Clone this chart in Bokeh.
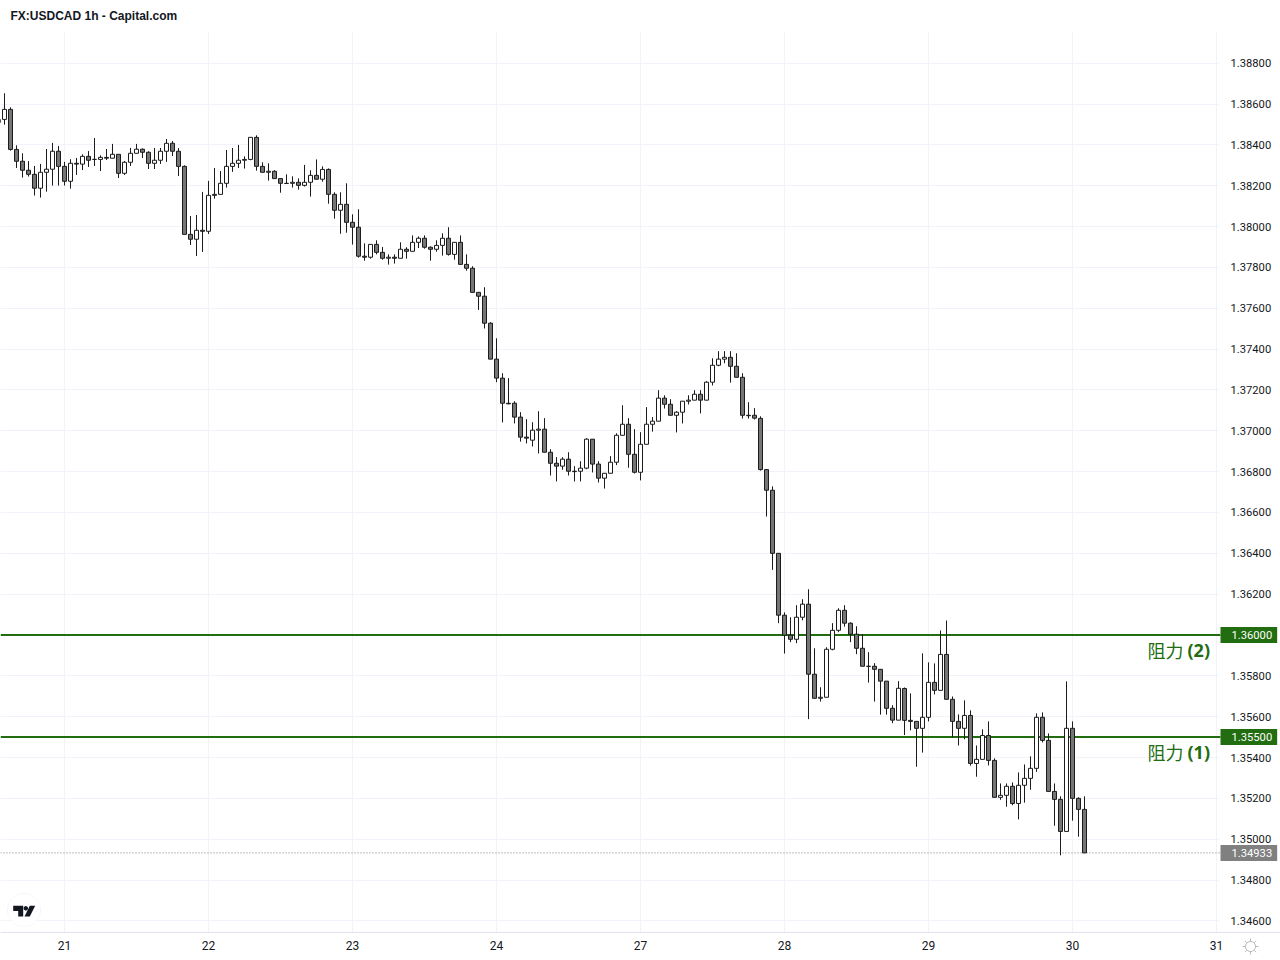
import numpy as np
from bokeh.plotting import figure
from bokeh.models import (ColumnDataSource, Label, FixedTicker, Range1d, PolyAnnotation, BoxAnnotation)
from bokeh.embed import file_html
from bokeh.resources import INLINE

chart_title = "FX:USDCAD 1h - Capital.com"

opens = [
1.38525,1.38525,1.38574,1.38378,1.38320,1.38276,1.38256,1.38188,1.38266,1.38281,
1.38369,1.38295,1.38222,1.38310,1.38306,1.38344,1.38329,1.38329,1.38339,1.38335,
1.38354,1.38261,1.38315,1.38359,1.38379,1.38364,1.38310,1.38325,1.38369,1.38408,
1.38369,1.38295,1.37962,1.37938,1.37982,1.37977,1.38153,1.38158,1.38212,1.38295,
1.38310,
1.38325,1.38329,1.38437,1.38295,1.38266,1.38271,1.38235,1.38212,1.38212,1.38217,
1.38202,1.38217,1.38251,1.38232,1.38280,1.38158,1.38080,1.38109,1.38021,1.37997,
1.37855,1.37850,1.37913,1.37874,1.37845,1.37850,1.37845,1.37889,1.37879,1.37923,
1.37943,1.37899,1.37889,1.37908,1.37943,1.37864,1.37923,1.37815,1.37796,
1.37678,1.37659,1.37527,1.37351,1.37258,1.37135,1.37135,1.37067,1.36969,1.36954,
1.37003,1.37008,1.36895,1.36841,1.36827,1.36861,1.36802,1.36802,1.36817,1.36959,
1.36837,1.36768,1.36792,1.36846,1.36978,1.37032,1.36885,1.36797,1.36934,1.37032,
1.37047,1.37160,1.37130,1.37076,1.37091,1.37145,1.37150,1.37179,1.37150,1.37238,
1.37321,1.37351,1.37360,1.37316,1.37262,1.37076,1.37076,
1.37061,1.36810,1.36709,1.36400,1.36097,1.35999,1.35979,1.36087,1.36151,1.35808,
1.35690,1.35695,1.35930,1.36023,1.36121,1.36058,1.36004,1.35935,1.35847,1.35847,
1.35832,1.35774,1.35641,1.35583,
1.35738,1.35582,1.35577,1.35543,1.35597,1.35768,1.35729,1.35905,1.35685,1.35577,
1.35543,1.35606,1.35371,1.35391,1.35508,1.35386,1.35205,1.35215,1.35259,1.35175,
1.35264,1.35298,1.35347,1.35597,1.35484,1.35234,1.35195,1.35038,1.35543,1.35200,
1.35146]

highs = [
1.38525,1.38653,1.38584,1.38398,1.38359,1.38321,1.38297,1.38307,1.38380,1.38410,
1.38395,1.38317,1.38330,1.38336,1.38354,1.38370,1.38434,1.38349,1.38380,1.38405,
1.38354,1.38321,1.38385,1.38405,1.38383,1.38369,1.38385,1.38385,1.38429,1.38419,
1.38385,1.38300,1.38052,1.38057,1.38170,1.38224,1.38287,1.38272,1.38375,1.38385,
1.38400,
1.38344,1.38437,1.38447,1.38315,1.38310,1.38276,1.38235,1.38256,1.38246,1.38236,
1.38302,1.38276,1.38329,1.38295,1.38285,1.38168,1.38168,1.38212,1.38060,1.38085,
1.37918,1.37913,1.37933,1.37900,1.37864,1.37864,1.37923,1.37899,1.37957,1.37952,
1.37957,1.37903,1.37933,1.37967,1.37997,1.37923,1.37957,1.37864,1.37806,
1.37678,1.37703,1.37532,1.37453,1.37282,1.37258,1.37145,1.37091,1.37057,1.37042,
1.37096,1.37062,1.36910,1.36871,1.36871,1.36895,1.36827,1.36851,1.36964,1.36959,
1.36851,1.36792,1.36876,1.36988,1.37125,1.37062,1.37008,1.36993,1.37116,1.37067,
1.37199,1.37174,1.37155,1.37096,1.37145,1.37174,1.37199,1.37199,1.37243,1.37355,
1.37390,1.37390,1.37390,1.37380,1.37282,1.37140,1.37111,
1.37071,1.36810,1.36728,1.36400,1.36111,1.36087,1.36146,1.36175,1.36224,1.35935,
1.35744,1.35940,1.36058,1.36131,1.36146,1.36062,1.36043,1.36004,1.35916,1.35862,
1.35832,1.35774,1.35656,1.35774,
1.35743,1.35714,1.35577,1.35910,1.35866,1.35861,1.36022,1.36071,1.35699,1.35611,
1.35680,1.35631,1.35459,1.35538,1.35577,1.35396,1.35273,1.35273,1.35278,1.35327,
1.35366,1.35406,1.35616,1.35621,1.35518,1.35273,1.35210,1.35773,1.35577,1.35205,
1.35210]

lows = [
1.38509,1.38499,1.38372,1.38287,1.38240,1.38245,1.38152,1.38142,1.38171,1.38201,
1.38201,1.38201,1.38186,1.38253,1.38277,1.38292,1.38297,1.38272,1.38326,1.38335,
1.38238,1.38253,1.38297,1.38359,1.38336,1.38282,1.38282,1.38307,1.38317,1.38346,
1.38248,1.37962,1.37910,1.37856,1.37876,1.37964,1.38137,1.38158,1.38191,1.38268,
1.38287,
1.38284,1.38325,1.38274,1.38266,1.38225,1.38235,1.38166,1.38210,1.38191,1.38181,
1.38196,1.38147,1.38232,1.38220,1.38112,1.38039,1.37965,1.37970,1.37912,1.37848,
1.37833,1.37843,1.37864,1.37838,1.37814,1.37819,1.37845,1.37843,1.37879,1.37895,
1.37892,1.37833,1.37877,1.37858,1.37858,1.37838,1.37815,1.37784,1.37678,
1.37592,1.37501,1.37351,1.37238,1.37041,1.37130,1.37036,1.36947,1.36938,1.36923,
1.36889,1.36895,1.36781,1.36752,1.36809,1.36781,1.36752,1.36752,1.36812,1.36796,
1.36747,1.36717,1.36792,1.36832,1.36978,1.36819,1.36791,1.36757,1.36934,1.36996,
1.37047,1.37109,1.37076,1.36992,1.37036,1.37129,1.37150,1.37085,1.37150,1.37222,
1.37316,1.37331,1.37236,1.37262,1.37060,1.37060,1.37055,
1.36805,1.36580,1.36319,1.36058,1.35909,1.35965,1.35960,1.36072,1.35588,1.35690,
1.35674,1.35695,1.35925,1.36014,1.36041,1.35965,1.35906,1.35847,1.35767,1.35674,
1.35610,1.35610,1.35568,1.35583,
1.35510,1.35533,1.35355,1.35424,1.35577,1.35709,1.35729,1.35685,1.35499,1.35459,
1.35489,1.35360,1.35306,1.35391,1.35361,1.35205,1.35193,1.35159,1.35166,1.35097,
1.35179,1.35242,1.35330,1.35474,1.35234,1.35066,1.34921,1.35038,1.35091,1.35012,
1.34933]

closes = [
1.38509,1.38574,1.38378,1.38320,1.38276,1.38256,1.38188,1.38266,1.38281,1.38369,
1.38295,1.38222,1.38310,1.38306,1.38344,1.38325,1.38329,1.38339,1.38335,1.38354,
1.38261,1.38315,1.38359,1.38379,1.38364,1.38310,1.38325,1.38369,1.38408,1.38369,
1.38295,1.37962,1.37938,1.37982,1.37977,1.38153,1.38158,1.38212,1.38295,1.38310,
1.38325,
1.38329,1.38437,1.38295,1.38266,1.38271,1.38235,1.38212,1.38211,1.38217,1.38202,
1.38217,1.38251,1.38232,1.38280,1.38158,1.38080,1.38109,1.38021,1.37997,1.37855,
1.37850,1.37913,1.37874,1.37845,1.37850,1.37845,1.37889,1.37879,1.37923,1.37943,
1.37899,1.37889,1.37908,1.37943,1.37864,1.37923,1.37815,1.37796,1.37678,
1.37659,1.37527,1.37351,1.37258,1.37135,1.37132,1.37067,1.36969,1.36964,1.37003,
1.37008,1.36895,1.36841,1.36827,1.36861,1.36802,1.36800,1.36817,1.36959,1.36837,
1.36768,1.36792,1.36846,1.36978,1.37032,1.36885,1.36797,1.36934,1.37032,1.37047,
1.37160,1.37130,1.37076,1.37091,1.37145,1.37150,1.37179,1.37150,1.37238,1.37321,
1.37351,1.37360,1.37316,1.37262,1.37076,1.37074,1.37062,
1.36810,1.36709,1.36400,1.36097,1.35999,1.35979,1.36087,1.36151,1.35808,1.35690,
1.35695,1.35930,1.36023,1.36121,1.36058,1.36004,1.35935,1.35847,1.35846,1.35832,
1.35774,1.35641,1.35583,1.35739,
1.35582,1.35577,1.35543,1.35597,1.35768,1.35729,1.35905,1.35685,1.35577,1.35543,
1.35606,1.35371,1.35391,1.35508,1.35386,1.35205,1.35215,1.35259,1.35175,1.35264,
1.35298,1.35347,1.35597,1.35484,1.35234,1.35195,1.35038,1.35543,1.35200,1.35146,
1.34933]

day_ticks = [10, 34, 58, 82, 106, 130, 154, 178, 202]
day_labels = ["21", "22", "23", "24", "27", "28", "29", "30", "31"]
price_ticks = [1.346, 1.348, 1.35, 1.352, 1.354, 1.356, 1.358, 1.36, 1.362, 1.364, 1.366,
               1.368, 1.37, 1.372, 1.374, 1.376, 1.378, 1.38, 1.382, 1.384, 1.386, 1.388]
resistance_levels = [1.36, 1.355]
resistance_names = ["(2)", "(1)"]
last_price = 1.34933

GREEN = "#226d10"
INK = "#131722"
GRID = "#f0f3fa"
BORDER = "#e0e3eb"
TICK_FONT = "Roboto"
TICK_SIZE = "11.2px"

# pixel layout of the reference: the whole canvas is the frame, with the price
# scale beyond x=1219 and the time scale below y=932.
PX_PER_BAR = 6
PX_PER_PRICE = 20420
x_at = lambda px: -4 / PX_PER_BAR + px / PX_PER_BAR
y_at = lambda py: 1.36 + (634.5 - py) / PX_PER_PRICE

n = len(opens)
bars = list(range(-1, n - 1))
is_down = [c < o for o, c in zip(opens, closes)]
src = ColumnDataSource(dict(
    x=bars, open=opens, high=highs, low=lows, close=closes,
    top=[max(o, c) for o, c in zip(opens, closes)],
    bottom=[min(o, c) for o, c in zip(opens, closes)],
    fill=["#757575" if d else "#ffffff" for d in is_down],
))

p = figure(width=1280, height=960, output_backend="svg", toolbar_location=None,
           y_axis_location="right",
           x_range=Range1d(x_at(0), x_at(1280)),
           y_range=Range1d(y_at(960), y_at(0)),
           min_border=0)
p.frame_width = 1280
p.frame_height = 960
p.outline_line_color = None
p.background_fill_color = "#ffffff"
p.border_fill_color = "#ffffff"

p.xgrid.ticker = FixedTicker(ticks=day_ticks)
p.ygrid.ticker = FixedTicker(ticks=price_ticks)
p.xgrid.grid_line_color = GRID
p.ygrid.grid_line_color = GRID

# keep the grid inside the chart pane
for kw in (dict(left=1219, right=1280, top=0, bottom=960),
           dict(left=0, right=1280, top=0, bottom=32),
           dict(left=0, right=1280, top=932, bottom=960)):
    p.add_layout(BoxAnnotation(left_units="canvas", right_units="canvas", top_units="canvas",
                               bottom_units="canvas", fill_color="#ffffff", fill_alpha=1,
                               line_color=None, level="underlay", **kw))

xa = p.xaxis[0]
xa.fixed_location = y_at(932)
xa.ticker = FixedTicker(ticks=day_ticks)
xa.major_label_overrides = dict(zip(day_ticks, day_labels))
xa.major_tick_line_color = None
xa.minor_tick_line_color = None
xa.axis_line_color = BORDER
xa.major_label_text_font = TICK_FONT
xa.major_label_text_font_size = "12px"
xa.major_label_text_color = INK
xa.major_label_standoff = 2

ya = p.yaxis[0]
ya.fixed_location = x_at(1219)
ya.ticker = FixedTicker(ticks=price_ticks)
ya.major_label_overrides = {t: f"{t:.5f}" for t in price_ticks}
ya.major_tick_line_color = None
ya.minor_tick_line_color = None
ya.axis_line_color = None
ya.major_label_text_font = TICK_FONT
ya.major_label_text_font_size = TICK_SIZE
ya.major_label_text_color = INK
ya.major_label_standoff = 5

level_src = ColumnDataSource(dict(x0=[x_at(0)] * 2, x1=[x_at(1220)] * 2, y=resistance_levels))
p.segment("x0", "y", "x1", "y", source=level_src, line_color=GREEN, line_width=2)
p.segment([x_at(0)], [last_price], [x_at(1220)], [last_price], line_color="#808080",
          line_width=1, line_dash="1 2")

p.segment("x", "high", "x", "low", source=src, line_color="#1c1c1c", line_width=1)
p.vbar("x", width=4 / PX_PER_BAR, top="top", bottom="bottom", source=src, fill_color="fill",
       line_color="#1c1c1c", line_width=1)

for level, name in zip(resistance_levels, resistance_names):
    p.add_layout(Label(x=1147, x_units="canvas", y=level, y_offset=-15, text="阻力",
                       text_font="Noto Sans CJK SC", text_font_size="18px", text_color=GREEN,
                       text_baseline="middle"))
    p.add_layout(Label(x=1187, x_units="canvas", y=level, y_offset=-15, text=name,
                       text_font="Noto Sans", text_font_size="18px", text_font_style="bold",
                       text_color=GREEN, text_baseline="middle"))
    p.add_layout(Label(x=1220, x_units="canvas", y=level, text=f"{level:.5f}", text_color="#ffffff",
                       text_font=TICK_FONT, text_font_size=TICK_SIZE, text_baseline="middle",
                       background_fill_color=GREEN, padding=(11, 5, 4, 4)))
p.add_layout(Label(x=1220, x_units="canvas", y=last_price, text=f"{last_price:.5f}", text_color="#ffffff",
                   text_font=TICK_FONT, text_font_size=TICK_SIZE, text_baseline="middle",
                   background_fill_color="#808080", padding=(11, 5, 4, 4)))

p.add_layout(Label(x=10, y=15, x_units="canvas", y_units="canvas", text=chart_title,
                   text_font="Liberation Sans", text_font_size="12px", text_font_style="bold",
                   text_color=INK, text_baseline="middle"))

# TradingView badge
t = np.linspace(0, 2 * np.pi, 61)[:-1]
p.add_layout(PolyAnnotation(xs=list(23.5 + 16.5 * np.cos(t)), ys=list(909.5 + 16.5 * np.sin(t)),
                            xs_units="canvas", ys_units="canvas", fill_color="#ffffff", fill_alpha=1,
                            line_color=BORDER, line_width=1))
for px, py in [([12.7, 22.7, 22.7, 17.7, 17.7, 12.7], [905.3, 905.3, 916, 916, 910.6, 910.6]),
               ([29.3, 34.7, 29.3, 24.0], [905.3, 905.3, 916, 916])]:
    p.add_layout(PolyAnnotation(xs=px, ys=py, xs_units="canvas", ys_units="canvas",
                                fill_color="#131722", fill_alpha=1, line_color=None))
p.add_layout(PolyAnnotation(xs=list(25.3 + 2.2 * np.cos(t)), ys=list(907.8 + 2.2 * np.sin(t)),
                            xs_units="canvas", ys_units="canvas", fill_color="#131722", fill_alpha=1,
                            line_color=None))

# appearance (sun) icon: a ring with eight short rays
cx, cy = 1250, 946
p.add_layout(PolyAnnotation(xs=list(cx + 5 * np.cos(t)), ys=list(cy + 5 * np.sin(t)),
                            xs_units="canvas", ys_units="canvas", fill_alpha=0,
                            line_color=INK, line_width=1))
for ang in np.arange(8) * np.pi / 4:
    p.add_layout(PolyAnnotation(xs=[cx + 5.5 * np.cos(ang), cx + 8 * np.cos(ang)],
                                ys=[cy + 5.5 * np.sin(ang), cy + 8 * np.sin(ang)],
                                xs_units="canvas", ys_units="canvas", fill_alpha=0,
                                line_color=INK, line_width=1))

open("out.html", "w").write(file_html(p, INLINE))
